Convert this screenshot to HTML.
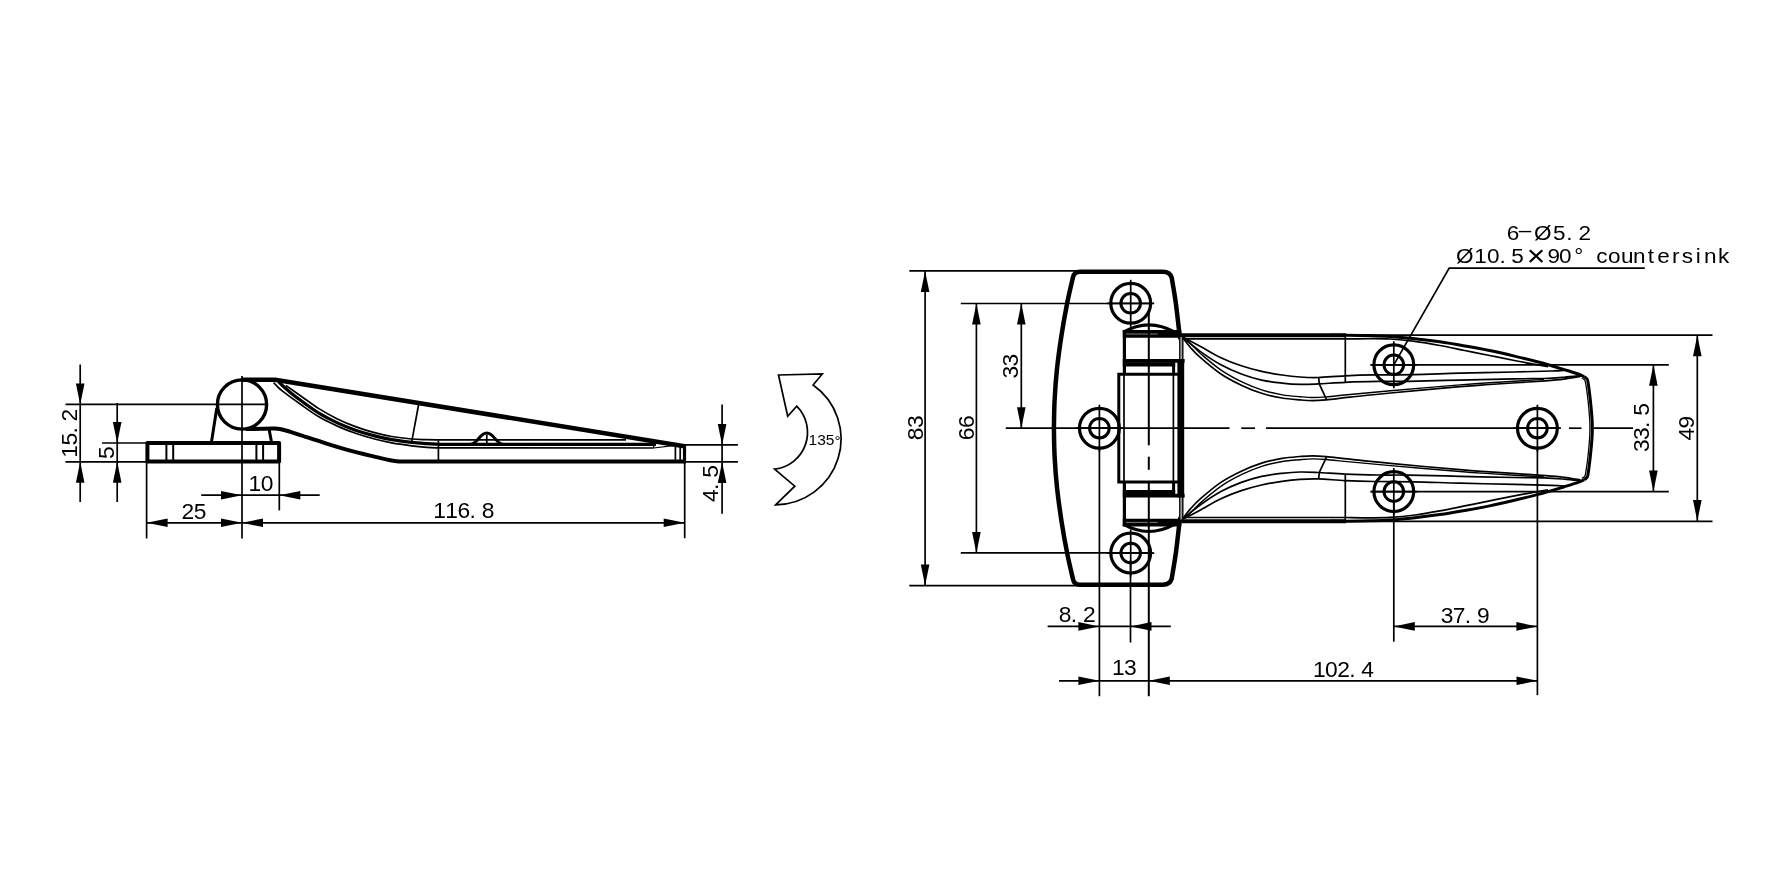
<!DOCTYPE html>
<html lang="en">
<head>
<meta charset="utf-8">
<title>Hinge dimension drawing</title>
<style>
html,body{margin:0;padding:0;background:#fff;}
body{width:1772px;height:884px;overflow:hidden;}
svg{display:block;will-change:transform;}
svg line,svg path,svg circle{fill:none;stroke:#000;stroke-linecap:butt;}
svg .a{fill:#000;stroke:none;}
svg text{font-family:"Liberation Sans",sans-serif;fill:#000;stroke:none;}
svg .t{text-anchor:middle;}
svg .m{text-anchor:middle;}
svg .s{text-anchor:start;}
</style>
</head>
<body>
<svg width="1772" height="884" viewBox="0 0 1772 884">
<rect x="0" y="0" width="1772" height="884" fill="#fff" stroke="none"/>
<g id="side">
<path d="M147.4,443 L279.1,443 L279.1,461.4 L147.4,461.4 Z" stroke-width="4" stroke-linejoin="round"/>
<line x1="166.4" y1="443" x2="166.4" y2="461.4" stroke-width="2"/>
<line x1="173.2" y1="443" x2="173.2" y2="461.4" stroke-width="2"/>
<line x1="256.4" y1="443" x2="256.4" y2="461.4" stroke-width="2"/>
<line x1="263.1" y1="443" x2="263.1" y2="461.4" stroke-width="2"/>
<circle cx="242" cy="404.5" r="24.6" stroke-width="3.4"/>
<line x1="216.8" y1="408" x2="211.4" y2="442.5" stroke-width="3"/>
<line x1="269.2" y1="430" x2="271.6" y2="442.5" stroke-width="3"/>
<path d="M242,379.7 L275,379.7 L686,446.4" stroke-width="4.6" stroke-linejoin="round"/>
<path d="M246,429 L262,428.8  C264.12,428.77 270.87,428.37 274.7,428.6 C278.53,428.83 280.85,429.17 285,430.2 C289.15,431.23 293.03,432.68 299.6,434.8 C306.17,436.92 316.12,440.3 324.4,442.9 C332.68,445.5 341,448.12 349.3,450.4 C357.6,452.68 367.58,455 374.2,456.6 C380.82,458.2 385.27,459.23 389,460 C392.73,460.77 394.1,460.97 396.6,461.2 C399.1,461.43 402.77,461.37 404,461.4 L685.8,461.4" stroke-width="4" stroke-linejoin="round"/>
<line x1="684.5" y1="444" x2="684.5" y2="463.2" stroke-width="3.2"/>
<path d="M278.5,381.6 C278.82,381.93 278.48,381.83 280.4,383.6 C282.32,385.37 286.53,389.33 290,392.2 C293.47,395.07 296.32,397.27 301.2,400.8 C306.08,404.33 313.27,409.72 319.3,413.4 C325.33,417.08 331.37,420.1 337.4,422.9 C343.43,425.7 349.47,428.08 355.5,430.2 C361.53,432.32 367.57,434.02 373.6,435.6 C379.63,437.18 385.37,438.57 391.7,439.7 C398.03,440.83 405.77,441.73 411.6,442.4 C417.43,443.07 422.22,443.38 426.7,443.7 C431.18,444.02 436.53,444.2 438.5,444.3 L656,444.4" stroke-width="3.2"/>
<path d="M273.6,382.7 C274.17,383.28 275.57,384.85 277,386.2 C278.43,387.55 278.17,387.7 282.2,390.8 C286.23,393.9 295.02,400.42 301.2,404.8 C307.38,409.18 313.27,413.55 319.3,417.1 C325.33,420.65 331.37,423.4 337.4,426.1 C343.43,428.8 349.47,431.18 355.5,433.3 C361.53,435.42 367.57,437.2 373.6,438.8 C379.63,440.4 385.37,441.73 391.7,442.9 C398.03,444.07 405.77,445.07 411.6,445.8 C417.43,446.53 422.22,446.95 426.7,447.3 C431.18,447.65 436.53,447.8 438.5,447.9 L653.7,448" stroke-width="1.7"/>
<path d="M285.8,385.4 C288.37,387.2 295.62,392.28 301.2,396.2 C306.78,400.12 313.27,405.12 319.3,408.9 C325.33,412.68 331.37,415.95 337.4,418.9 C343.43,421.85 349.47,424.35 355.5,426.6 C361.53,428.85 367.57,430.75 373.6,432.4 C379.63,434.05 385.37,435.4 391.7,436.5 C398.03,437.6 405.88,438.48 411.6,439 C417.32,439.52 421.52,439.47 426,439.6 C430.48,439.73 436.42,439.77 438.5,439.8 L626,439.8" stroke-width="1.7"/>
<path d="M653.7,448 L653.7,446 M653.7,448 L673.4,445.6 M656,443.2 L678,444.4" stroke-width="1.2"/>
<line x1="675.4" y1="446" x2="675.4" y2="460" stroke-width="1.7"/>
<line x1="680.2" y1="445" x2="680.2" y2="460" stroke-width="1.7"/>
<line x1="418.8" y1="403.5" x2="411.6" y2="442.4" stroke-width="1.7"/>
<line x1="438.4" y1="440.5" x2="438.4" y2="461.4" stroke-width="1.7"/>
<path d="M470.5,444.2 C477.5,444.2 479.5,433 486.8,433 C494,433 496,444.2 503,444.2" stroke-width="3"/>
<line x1="486.8" y1="434.5" x2="486.8" y2="444" stroke-width="1.7"/>
<line x1="65.5" y1="404.4" x2="268" y2="404.4" stroke-width="1.7"/>
<line x1="242" y1="376" x2="242" y2="538.4" stroke-width="1.7"/>
<line x1="80.2" y1="364.5" x2="80.2" y2="502" stroke-width="1.7"/>
<polygon class="a" points="80.2,404.4 75.9,383.4 84.5,383.4"/>
<polygon class="a" points="80.2,461.8 84.5,482.8 75.9,482.8"/>
<line x1="117.2" y1="403" x2="117.2" y2="502" stroke-width="1.7"/>
<polygon class="a" points="117.2,443 112.9,422 121.5,422"/>
<polygon class="a" points="117.2,461.8 121.5,482.8 112.9,482.8"/>
<line x1="102" y1="443" x2="147" y2="443" stroke-width="1.7"/>
<line x1="65.5" y1="461.8" x2="147" y2="461.8" stroke-width="1.7"/>
<g transform="translate(77.3 433.2) rotate(-90)"><text class="t" font-size="22.8" x="-18.15 -6.05 2.75 18.15" y="0">15.2</text></g>
<g transform="translate(113.8 452.7) rotate(-90)"><text class="t" font-size="22.8" x="0" y="0">5</text></g>
<line x1="146.6" y1="462" x2="146.6" y2="538.4" stroke-width="1.7"/>
<line x1="279.3" y1="462" x2="279.3" y2="510.4" stroke-width="1.7"/>
<line x1="684.7" y1="462" x2="684.7" y2="538.2" stroke-width="1.7"/>
<line x1="201.2" y1="495.2" x2="319.7" y2="495.2" stroke-width="1.7"/>
<polygon class="a" points="242,495.2 221,499.5 221,490.9"/>
<polygon class="a" points="279.3,495.2 300.3,490.9 300.3,499.5"/>
<line x1="146.6" y1="522.8" x2="684.7" y2="522.8" stroke-width="1.7"/>
<polygon class="a" points="146.6,522.8 167.6,518.5 167.6,527.1"/>
<polygon class="a" points="242,522.8 221,527.1 221,518.5"/>
<polygon class="a" points="242,522.8 263,518.5 263,527.1"/>
<polygon class="a" points="684.7,522.8 663.7,527.1 663.7,518.5"/>
<text class="t" font-size="22.8" x="254.95 267.05" y="490.9">10</text>
<text class="t" font-size="22.8" x="187.95 200.05" y="518.9">25</text>
<text class="t" font-size="22.8" x="439.6 451.7 463.8 472.6 488" y="518.2">116.8</text>
<line x1="686" y1="444.9" x2="737.9" y2="444.9" stroke-width="1.7"/>
<line x1="686" y1="461.9" x2="737.9" y2="461.9" stroke-width="1.7"/>
<line x1="722.1" y1="404.4" x2="722.1" y2="513.7" stroke-width="1.7"/>
<polygon class="a" points="722.1,444.9 717.8,423.9 726.4,423.9"/>
<polygon class="a" points="722.1,461.9 726.4,482.9 717.8,482.9"/>
<g transform="translate(718.1 483.5) rotate(-90)"><text class="t" font-size="22.8" x="-12.1 -3.3 12.1" y="0">4.5</text></g>
</g>
<g id="rot">
<path d="M778.5,375 L822.3,374 L813.1,385 A65.9,65.9 0 0 1 775.6,504.8 L794.8,486.2 L774.6,469.2 A37.05,37.05 0 0 0 796.7,406.2 L787.7,416.3 Z" stroke-width="1.7" stroke-linejoin="miter"/>
<text class="s" font-size="15.5" x="808.6" y="445.2">135<tspan x="834.6" y="445.5">°</tspan></text>
</g>
<g id="top">
<path d="M1180.9,338.5 C1180.68,337.85 1180.45,340.52 1179.6,334.6 C1178.75,328.68 1177.12,312.5 1175.8,303 C1174.48,293.5 1172.38,281.83 1171.7,277.6 Q1169.8,271.7 1163,271.7 L1080,271.7 Q1074,271.7 1072.9,277.6 C1071.95,281.83 1069.08,293.5 1067.2,303 C1065.32,312.5 1063.3,323.63 1061.6,334.6 C1059.9,345.57 1058.17,357.9 1057,368.8 C1055.83,379.7 1055.12,390.1 1054.6,400 C1054.08,409.9 1054.02,423.5 1053.9,428.2" stroke-width="4.5" stroke-linejoin="round"/>
<path d="M1180.9,517.9 C1180.68,518.55 1180.45,515.88 1179.6,521.8 C1178.75,527.72 1177.12,543.9 1175.8,553.4 C1174.48,562.9 1172.38,574.57 1171.7,578.8 Q1169.8,584.7 1163,584.7 L1080,584.7 Q1074,584.7 1072.9,578.8 C1071.95,574.57 1069.08,562.9 1067.2,553.4 C1065.32,543.9 1063.3,532.77 1061.6,521.8 C1059.9,510.83 1058.17,498.5 1057,487.6 C1055.83,476.7 1055.12,466.3 1054.6,456.4 C1054.08,446.5 1054.02,432.9 1053.9,428.2" stroke-width="4.5" stroke-linejoin="round"/>
<circle cx="1130.7" cy="303.3" r="19.9" stroke-width="3.2"/>
<circle cx="1130.7" cy="303.3" r="9.8" stroke-width="3"/>
<circle cx="1099.4" cy="428.2" r="19.9" stroke-width="3.2"/>
<circle cx="1099.4" cy="428.2" r="9.8" stroke-width="3"/>
<circle cx="1130.7" cy="553.1" r="19.9" stroke-width="3.2"/>
<circle cx="1130.7" cy="553.1" r="9.8" stroke-width="3"/>
<circle cx="1393.8" cy="364.8" r="19.9" stroke-width="3.2"/>
<circle cx="1393.8" cy="364.8" r="9.8" stroke-width="3"/>
<circle cx="1537.4" cy="428.2" r="19.9" stroke-width="3.2"/>
<circle cx="1537.4" cy="428.2" r="9.8" stroke-width="3"/>
<circle cx="1393.8" cy="491.6" r="19.9" stroke-width="3.2"/>
<circle cx="1393.8" cy="491.6" r="9.8" stroke-width="3"/>
<path d="M1123.2,332.2 Q1148.8,317.6 1174.8,332.2" stroke-width="3.2"/>
<line x1="1122.8" y1="333.8" x2="1181.2" y2="333.8" stroke-width="7.8"/>
<line x1="1125.5" y1="334" x2="1157.7" y2="334" stroke-width="0.9" style="stroke:#8a8a8a"/>
<line x1="1124.4" y1="331" x2="1124.4" y2="374.3" stroke-width="3.2"/>
<line x1="1122.8" y1="360.8" x2="1184.6" y2="360.8" stroke-width="3.8"/>
<line x1="1122.8" y1="364.4" x2="1175.2" y2="364.4" stroke-width="4.2"/>
<line x1="1173.6" y1="364" x2="1173.6" y2="374.3" stroke-width="3"/>
<line x1="1181.2" y1="337" x2="1181.2" y2="360" stroke-width="2.4" style="stroke:#9a9a9a"/>
<line x1="1179.7" y1="337" x2="1179.7" y2="360" stroke-width="1.2"/>
<line x1="1182.8" y1="337" x2="1182.8" y2="360" stroke-width="1.4"/>
<path d="M1123.2,524.2 Q1148.8,538.8 1174.8,524.2" stroke-width="3.2"/>
<line x1="1122.8" y1="522.6" x2="1181.2" y2="522.6" stroke-width="7.8"/>
<line x1="1125.5" y1="522.4" x2="1157.7" y2="522.4" stroke-width="0.9" style="stroke:#8a8a8a"/>
<line x1="1124.4" y1="525.4" x2="1124.4" y2="482.1" stroke-width="3.2"/>
<line x1="1122.8" y1="495.6" x2="1184.6" y2="495.6" stroke-width="3.8"/>
<line x1="1122.8" y1="492" x2="1175.2" y2="492" stroke-width="4.2"/>
<line x1="1173.6" y1="492.4" x2="1173.6" y2="482.1" stroke-width="3"/>
<line x1="1181.2" y1="519.4" x2="1181.2" y2="496.4" stroke-width="2.4" style="stroke:#9a9a9a"/>
<line x1="1179.7" y1="519.4" x2="1179.7" y2="496.4" stroke-width="1.2"/>
<line x1="1182.8" y1="519.4" x2="1182.8" y2="496.4" stroke-width="1.4"/>
<path d="M1179.6,374.3 L1118.8,374.3 L1118.8,482.1 L1179.6,482.1" stroke-width="3" stroke-linejoin="miter"/>
<line x1="1124" y1="374.3" x2="1124" y2="482.1" stroke-width="1.7"/>
<line x1="1173.4" y1="374.3" x2="1173.4" y2="482.1" stroke-width="1.7"/>
<line x1="1180.8" y1="359" x2="1180.8" y2="497.4" stroke-width="6.8"/>
<line x1="1148.8" y1="312.8" x2="1148.8" y2="445.3" stroke-width="2"/>
<line x1="1148.8" y1="456.7" x2="1148.8" y2="469.8" stroke-width="2"/>
<line x1="1148.8" y1="482.4" x2="1148.8" y2="696.2" stroke-width="2"/>
<path d="M1181.4,335.2 L1346,335.2" stroke-width="3.9"/>
<path d="M1330,335.2 C1332.67,335.2 1339.33,335.13 1346,335.2 C1352.67,335.27 1362.67,335.4 1370,335.6 C1377.33,335.8 1382.52,335.88 1390,336.4 C1397.48,336.92 1406.6,337.8 1414.9,338.7 C1423.2,339.6 1431.5,340.6 1439.8,341.8 C1448.1,343 1456.4,344.45 1464.7,345.9 C1473,347.35 1481.32,348.8 1489.6,350.5 C1497.88,352.2 1506.12,354.13 1514.4,356.1 C1522.68,358.07 1531,360.05 1539.3,362.3 C1547.6,364.55 1557.97,367.73 1564.2,369.6 C1570.43,371.47 1573.38,372.33 1576.7,373.5 C1580.02,374.67 1582.87,376.08 1584.1,376.6" stroke-width="3"/>
<path d="M1185,338.9 L1346,338.9 C1350,338.85 1362.67,338.58 1370,338.6 C1377.33,338.62 1382.52,338.53 1390,339 C1397.48,339.47 1406.6,340.32 1414.9,341.4 C1423.2,342.48 1431.5,343.98 1439.8,345.5 C1448.1,347.02 1456.4,348.83 1464.7,350.5 C1473,352.17 1481.32,353.83 1489.6,355.5 C1497.88,357.17 1507.15,359.08 1514.4,360.5 C1521.65,361.92 1527.5,362.98 1533.1,364 C1538.7,365.02 1545.52,366.17 1548,366.6" stroke-width="1.7"/>
<line x1="1345.3" y1="335.5" x2="1345.3" y2="382.4" stroke-width="1.7"/>
<path d="M1183.2,337.3 C1186.08,338.83 1194.22,343.1 1200.5,346.5 C1206.78,349.9 1214.1,354.48 1220.9,357.7 C1227.7,360.92 1234.52,363.52 1241.3,365.8 C1248.08,368.08 1254.82,369.87 1261.6,371.4 C1268.38,372.93 1275.6,374.07 1282,375 C1288.4,375.93 1293.98,376.58 1300,377 C1306.02,377.42 1310.57,377.7 1318.1,377.5 C1325.63,377.3 1335.85,376.23 1345.2,375.8 C1354.55,375.37 1362.73,375.1 1374.2,374.9 C1385.67,374.7 1399.7,374.88 1414,374.6 C1428.3,374.32 1443.27,373.63 1460,373.2 C1476.73,372.77 1499.1,372.37 1514.4,372 C1529.7,371.63 1543.2,371.3 1551.8,371 C1560.4,370.7 1563.63,370.33 1566,370.2" stroke-width="1.7"/>
<path d="M1183.2,337.8 C1186.08,340.1 1194.22,347.1 1200.5,351.6 C1206.78,356.1 1214.1,361.07 1220.9,364.8 C1227.7,368.53 1234.52,371.45 1241.3,374 C1248.08,376.55 1254.82,378.58 1261.6,380.1 C1268.38,381.62 1275.6,382.38 1282,383.1 C1288.4,383.82 1293.98,384.27 1300,384.4 C1306.02,384.53 1310.57,384.25 1318.1,383.9 C1325.63,383.55 1335.25,382.72 1345.2,382.3 C1355.15,381.88 1367.23,381.57 1377.8,381.4 C1388.37,381.23 1394.9,381.52 1408.6,381.3 C1422.3,381.08 1442.37,380.5 1460,380.1 C1477.63,379.7 1500.35,379.17 1514.4,378.9 C1528.45,378.63 1536,378.77 1544.3,378.5 C1552.6,378.23 1557.98,377.78 1564.2,377.3 C1570.42,376.82 1578.7,375.88 1581.6,375.6" stroke-width="1.7"/>
<path d="M1183.2,338.3 C1184.4,339.83 1187.52,344.27 1190.4,347.5 C1193.28,350.73 1195.42,353.28 1200.5,357.7 C1205.58,362.12 1214.1,369.42 1220.9,374 C1227.7,378.58 1234.52,381.98 1241.3,385.2 C1248.08,388.42 1254.82,391.17 1261.6,393.3 C1268.38,395.43 1275.6,396.9 1282,398 C1288.4,399.1 1294.92,399.47 1300,399.9 C1305.08,400.33 1308.13,400.62 1312.5,400.6 C1316.87,400.58 1319.95,400.37 1326.2,399.8 C1332.45,399.23 1339.28,398.33 1350,397.2 C1360.72,396.07 1372.17,394.75 1390.5,393 C1408.83,391.25 1443.48,388.12 1460,386.7 C1476.52,385.28 1475.33,385.48 1489.6,384.5 C1503.87,383.52 1533.17,381.7 1545.6,380.8 C1558.03,379.9 1558.4,379.83 1564.2,379.1 C1570,378.37 1577.7,376.85 1580.4,376.4" stroke-width="1.7"/>
<path d="M1187.5,340.5 C1188.48,341.52 1190.82,344.05 1193.4,346.6 C1195.98,349.15 1198.13,351.7 1203,355.8 C1207.87,359.9 1216.03,366.8 1222.6,371.2 C1229.17,375.6 1235.77,379.03 1242.4,382.2 C1249.03,385.37 1255.73,388.08 1262.4,390.2 C1269.07,392.32 1276.13,393.82 1282.4,394.9 C1288.67,395.98 1294.98,396.27 1300,396.7 C1305.02,397.13 1308.13,397.47 1312.5,397.5 C1316.87,397.53 1319.95,397.4 1326.2,396.9 C1332.45,396.4 1339.28,395.52 1350,394.5 C1360.72,393.48 1372.17,392.4 1390.5,390.8 C1408.83,389.2 1443.48,386.23 1460,384.9 C1476.52,383.57 1475.6,383.72 1489.6,382.8 C1503.6,381.88 1534.93,379.97 1544,379.4" stroke-width="1.4"/>
<path d="M1318.6,377.6 L1319.5,384.4 L1326.7,399.8" stroke-width="1.7"/>
<path d="M1181.4,521.2 L1346,521.2" stroke-width="3.9"/>
<path d="M1330,521.2 C1332.67,521.2 1339.33,521.27 1346,521.2 C1352.67,521.13 1362.67,521 1370,520.8 C1377.33,520.6 1382.52,520.52 1390,520 C1397.48,519.48 1406.6,518.6 1414.9,517.7 C1423.2,516.8 1431.5,515.8 1439.8,514.6 C1448.1,513.4 1456.4,511.95 1464.7,510.5 C1473,509.05 1481.32,507.6 1489.6,505.9 C1497.88,504.2 1506.12,502.27 1514.4,500.3 C1522.68,498.33 1531,496.35 1539.3,494.1 C1547.6,491.85 1557.97,488.67 1564.2,486.8 C1570.43,484.93 1573.38,484.07 1576.7,482.9 C1580.02,481.73 1582.87,480.32 1584.1,479.8" stroke-width="3"/>
<path d="M1185,517.5 L1346,517.5 C1350,517.55 1362.67,517.82 1370,517.8 C1377.33,517.78 1382.52,517.87 1390,517.4 C1397.48,516.93 1406.6,516.08 1414.9,515 C1423.2,513.92 1431.5,512.42 1439.8,510.9 C1448.1,509.38 1456.4,507.57 1464.7,505.9 C1473,504.23 1481.32,502.57 1489.6,500.9 C1497.88,499.23 1507.15,497.32 1514.4,495.9 C1521.65,494.48 1527.5,493.42 1533.1,492.4 C1538.7,491.38 1545.52,490.23 1548,489.8" stroke-width="1.7"/>
<line x1="1345.3" y1="520.9" x2="1345.3" y2="474" stroke-width="1.7"/>
<path d="M1183.2,519.1 C1186.08,517.57 1194.22,513.3 1200.5,509.9 C1206.78,506.5 1214.1,501.92 1220.9,498.7 C1227.7,495.48 1234.52,492.88 1241.3,490.6 C1248.08,488.32 1254.82,486.53 1261.6,485 C1268.38,483.47 1275.6,482.33 1282,481.4 C1288.4,480.47 1293.98,479.82 1300,479.4 C1306.02,478.98 1310.57,478.7 1318.1,478.9 C1325.63,479.1 1335.85,480.17 1345.2,480.6 C1354.55,481.03 1362.73,481.3 1374.2,481.5 C1385.67,481.7 1399.7,481.52 1414,481.8 C1428.3,482.08 1443.27,482.77 1460,483.2 C1476.73,483.63 1499.1,484.03 1514.4,484.4 C1529.7,484.77 1543.2,485.1 1551.8,485.4 C1560.4,485.7 1563.63,486.07 1566,486.2" stroke-width="1.7"/>
<path d="M1183.2,518.6 C1186.08,516.3 1194.22,509.3 1200.5,504.8 C1206.78,500.3 1214.1,495.33 1220.9,491.6 C1227.7,487.87 1234.52,484.95 1241.3,482.4 C1248.08,479.85 1254.82,477.82 1261.6,476.3 C1268.38,474.78 1275.6,474.02 1282,473.3 C1288.4,472.58 1293.98,472.13 1300,472 C1306.02,471.87 1310.57,472.15 1318.1,472.5 C1325.63,472.85 1335.25,473.68 1345.2,474.1 C1355.15,474.52 1367.23,474.83 1377.8,475 C1388.37,475.17 1394.9,474.88 1408.6,475.1 C1422.3,475.32 1442.37,475.9 1460,476.3 C1477.63,476.7 1500.35,477.23 1514.4,477.5 C1528.45,477.77 1536,477.63 1544.3,477.9 C1552.6,478.17 1557.98,478.62 1564.2,479.1 C1570.42,479.58 1578.7,480.52 1581.6,480.8" stroke-width="1.7"/>
<path d="M1183.2,518.1 C1184.4,516.57 1187.52,512.13 1190.4,508.9 C1193.28,505.67 1195.42,503.12 1200.5,498.7 C1205.58,494.28 1214.1,486.98 1220.9,482.4 C1227.7,477.82 1234.52,474.42 1241.3,471.2 C1248.08,467.98 1254.82,465.23 1261.6,463.1 C1268.38,460.97 1275.6,459.5 1282,458.4 C1288.4,457.3 1294.92,456.93 1300,456.5 C1305.08,456.07 1308.13,455.78 1312.5,455.8 C1316.87,455.82 1319.95,456.03 1326.2,456.6 C1332.45,457.17 1339.28,458.07 1350,459.2 C1360.72,460.33 1372.17,461.65 1390.5,463.4 C1408.83,465.15 1443.48,468.28 1460,469.7 C1476.52,471.12 1475.33,470.92 1489.6,471.9 C1503.87,472.88 1533.17,474.7 1545.6,475.6 C1558.03,476.5 1558.4,476.57 1564.2,477.3 C1570,478.03 1577.7,479.55 1580.4,480" stroke-width="1.7"/>
<path d="M1187.5,515.9 C1188.48,514.88 1190.82,512.35 1193.4,509.8 C1195.98,507.25 1198.13,504.7 1203,500.6 C1207.87,496.5 1216.03,489.6 1222.6,485.2 C1229.17,480.8 1235.77,477.37 1242.4,474.2 C1249.03,471.03 1255.73,468.32 1262.4,466.2 C1269.07,464.08 1276.13,462.58 1282.4,461.5 C1288.67,460.42 1294.98,460.13 1300,459.7 C1305.02,459.27 1308.13,458.93 1312.5,458.9 C1316.87,458.87 1319.95,459 1326.2,459.5 C1332.45,460 1339.28,460.88 1350,461.9 C1360.72,462.92 1372.17,464 1390.5,465.6 C1408.83,467.2 1443.48,470.17 1460,471.5 C1476.52,472.83 1475.6,472.68 1489.6,473.6 C1503.6,474.52 1534.93,476.43 1544,477" stroke-width="1.4"/>
<path d="M1318.6,478.8 L1319.5,472 L1326.7,456.6" stroke-width="1.7"/>
<path d="M1584.1,376.6 C1584.52,376.93 1585.97,377.8 1586.6,378.6 C1587.23,379.4 1587.28,377.88 1587.9,381.4 C1588.52,384.92 1589.62,393.6 1590.3,399.7 C1590.98,405.8 1591.67,413.25 1592,418 C1592.33,422.75 1592.3,424.8 1592.3,428.2 C1592.3,431.6 1592.33,433.65 1592,438.4 C1591.67,443.15 1590.98,450.6 1590.3,456.7 C1589.62,462.8 1588.52,471.48 1587.9,475 C1587.28,478.52 1587.23,477 1586.6,477.8 C1585.97,478.6 1584.52,479.47 1584.1,479.8" stroke-width="3"/>
<path d="M1582,378 C1582.4,378.3 1583.8,378.97 1584.4,379.8 C1585,380.63 1585,379.63 1585.6,383 C1586.2,386.37 1587.33,394.17 1588,400 C1588.67,405.83 1589.28,413.3 1589.6,418 C1589.92,422.7 1589.9,424.8 1589.9,428.2 C1589.9,431.6 1589.92,433.7 1589.6,438.4 C1589.28,443.1 1588.67,450.57 1588,456.4 C1587.33,462.23 1586.2,470.03 1585.6,473.4 C1585,476.77 1585,475.77 1584.4,476.6 C1583.8,477.43 1582.4,478.1 1582,478.4" stroke-width="1.3"/>
<line x1="1005.8" y1="428.2" x2="1229.5" y2="428.2" stroke-width="1.7"/>
<line x1="1241.3" y1="428.2" x2="1255" y2="428.2" stroke-width="1.7"/>
<line x1="1266" y1="428.2" x2="1559.4" y2="428.2" stroke-width="1.7"/>
<line x1="1569" y1="428.2" x2="1581.5" y2="428.2" stroke-width="1.7"/>
<line x1="1593.5" y1="428.2" x2="1633" y2="428.2" stroke-width="1.7"/>
<line x1="1107.2" y1="303.3" x2="1154.2" y2="303.3" stroke-width="1.7"/>
<line x1="1130.7" y1="279.8" x2="1130.7" y2="326.8" stroke-width="1.7"/>
<line x1="1075.9" y1="428.2" x2="1122.9" y2="428.2" stroke-width="1.7"/>
<line x1="1099.4" y1="404.7" x2="1099.4" y2="451.7" stroke-width="1.7"/>
<line x1="1107.2" y1="553.1" x2="1154.2" y2="553.1" stroke-width="1.7"/>
<line x1="1130.7" y1="529.6" x2="1130.7" y2="576.6" stroke-width="1.7"/>
<line x1="1370.3" y1="364.8" x2="1417.3" y2="364.8" stroke-width="1.7"/>
<line x1="1393.8" y1="341.3" x2="1393.8" y2="388.3" stroke-width="1.7"/>
<line x1="1513.9" y1="428.2" x2="1560.9" y2="428.2" stroke-width="1.7"/>
<line x1="1537.4" y1="404.7" x2="1537.4" y2="451.7" stroke-width="1.7"/>
<line x1="1370.3" y1="491.6" x2="1417.3" y2="491.6" stroke-width="1.7"/>
<line x1="1393.8" y1="468.1" x2="1393.8" y2="515.1" stroke-width="1.7"/>
<line x1="909.3" y1="270.9" x2="1078" y2="270.9" stroke-width="1.7"/>
<line x1="909.3" y1="585.6" x2="1080" y2="585.6" stroke-width="1.7"/>
<line x1="925.1" y1="270.9" x2="925.1" y2="585.6" stroke-width="1.7"/>
<polygon class="a" points="925.1,270.9 929.4,291.9 920.8,291.9"/>
<polygon class="a" points="925.1,585.6 920.8,564.6 929.4,564.6"/>
<line x1="960.8" y1="303.5" x2="1152.8" y2="303.5" stroke-width="1.7"/>
<line x1="960.8" y1="552.9" x2="1152.8" y2="552.9" stroke-width="1.7"/>
<line x1="976.4" y1="303.5" x2="976.4" y2="552.9" stroke-width="1.7"/>
<polygon class="a" points="976.4,303.5 980.7,324.5 972.1,324.5"/>
<polygon class="a" points="976.4,552.9 972.1,531.9 980.7,531.9"/>
<line x1="1021.3" y1="303.5" x2="1021.3" y2="428.2" stroke-width="1.7"/>
<polygon class="a" points="1021.3,303.5 1025.6,324.5 1017,324.5"/>
<polygon class="a" points="1021.3,428.2 1017,407.2 1025.6,407.2"/>
<g transform="translate(922.5 427.8) rotate(-90)"><text class="t" font-size="22.8" x="-6.05 6.05" y="0">83</text></g>
<g transform="translate(973.8 427.8) rotate(-90)"><text class="t" font-size="22.8" x="-6.05 6.05" y="0">66</text></g>
<g transform="translate(1018 366.1) rotate(-90)"><text class="t" font-size="22.8" x="-6.05 6.05" y="0">33</text></g>
<line x1="1346" y1="335.1" x2="1712.5" y2="335.1" stroke-width="1.7"/>
<line x1="1346" y1="521.3" x2="1712.5" y2="521.3" stroke-width="1.7"/>
<line x1="1371.3" y1="364.8" x2="1668.8" y2="364.8" stroke-width="1.7"/>
<line x1="1371.3" y1="491.6" x2="1668.8" y2="491.6" stroke-width="1.7"/>
<line x1="1653.4" y1="364.8" x2="1653.4" y2="491.6" stroke-width="1.7"/>
<polygon class="a" points="1653.4,364.8 1657.7,385.8 1649.1,385.8"/>
<polygon class="a" points="1653.4,491.6 1649.1,470.6 1657.7,470.6"/>
<line x1="1697.3" y1="335.3" x2="1697.3" y2="521.1" stroke-width="1.7"/>
<polygon class="a" points="1697.3,335.3 1701.6,356.3 1693,356.3"/>
<polygon class="a" points="1697.3,521.1 1693,500.1 1701.6,500.1"/>
<g transform="translate(1649.3 427.6) rotate(-90)"><text class="t" font-size="22.8" x="-18.15 -6.05 2.75 18.15" y="0">33.5</text></g>
<g transform="translate(1694.1 428.2) rotate(-90)"><text class="t" font-size="22.8" x="-6.05 6.05" y="0">49</text></g>
<line x1="1099.4" y1="448.2" x2="1099.4" y2="696.2" stroke-width="1.7"/>
<line x1="1130.5" y1="560" x2="1130.5" y2="642.5" stroke-width="1.7"/>
<line x1="1047.6" y1="626.4" x2="1170.8" y2="626.4" stroke-width="1.7"/>
<polygon class="a" points="1099.4,626.4 1078.4,630.7 1078.4,622.1"/>
<polygon class="a" points="1130.5,626.4 1151.5,622.1 1151.5,630.7"/>
<line x1="1059" y1="680.8" x2="1537.5" y2="680.8" stroke-width="1.7"/>
<polygon class="a" points="1099.4,680.8 1078.4,685.1 1078.4,676.5"/>
<polygon class="a" points="1148.8,680.8 1169.8,676.5 1169.8,685.1"/>
<polygon class="a" points="1537.5,680.8 1516.5,685.1 1516.5,676.5"/>
<line x1="1393.8" y1="500" x2="1393.8" y2="641.7" stroke-width="1.7"/>
<line x1="1537.4" y1="448.2" x2="1537.4" y2="695.2" stroke-width="1.7"/>
<line x1="1393.8" y1="626.4" x2="1537.4" y2="626.4" stroke-width="1.7"/>
<polygon class="a" points="1393.8,626.4 1414.8,622.1 1414.8,630.7"/>
<polygon class="a" points="1537.4,626.4 1516.4,630.7 1516.4,622.1"/>
<text class="t" font-size="22.8" x="1065.2 1074 1089.4" y="622.1">8.2</text>
<text class="t" font-size="22.8" x="1118.35 1130.45" y="675.2">13</text>
<text class="t" font-size="22.8" x="1447.05 1459.15 1467.95 1483.35" y="622.7">37.9</text>
<text class="t" font-size="22.8" x="1319.3 1331.4 1343.5 1352.3 1367.7" y="676.8">102.4</text>
<path d="M1393.8,364.8 L1449.2,268.1 L1644.8,268.1" stroke-width="1.7" stroke-linejoin="miter"/>
<text class="m" font-size="20.5" transform="scale(1.1 1)" y="239.6" x="1375.55">6<tspan dy="-2.2" x="1386.45">–</tspan><tspan dy="2.2" x="1402.55 1417.45 1426.82 1440.73">Ø5.2</tspan></text>
<text class="m" font-size="20.5" transform="scale(1.1 1)" y="263.4" x="1331.55 1345.82 1357.55 1366.09 1379.64" xml:space="preserve">Ø10.5<tspan font-size="29" dy="2.9" x="1396.36">×</tspan><tspan dy="-2.9" x="1412.55 1423 1435.18 1445.91 1456.36 1467.64 1479.45 1490.36 1500.73 1512.27 1523.36 1534.09 1543.82 1554.91 1566.91">90° countersink</tspan></text>
</g>
</svg>
</body>
</html>
